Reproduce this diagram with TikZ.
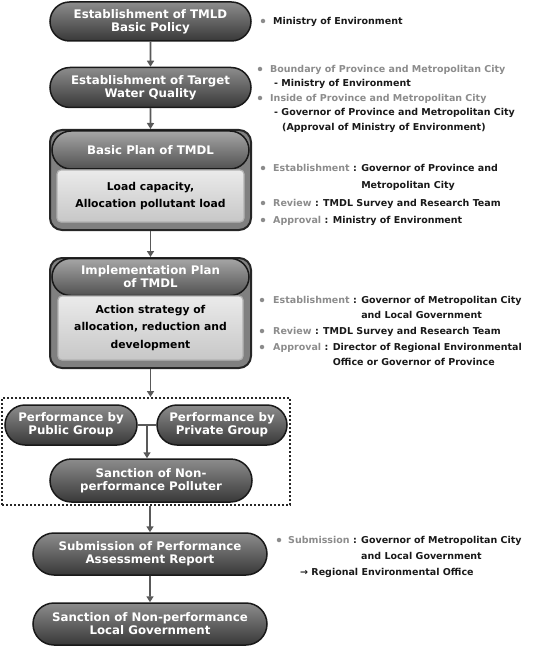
\documentclass[tikz,border=0pt]{standalone}
\usepackage{fontspec}
\setmainfont{DejaVu Sans}
\usetikzlibrary{arrows.meta,positioning,calc,shapes.misc}

\begin{document}
\begin{tikzpicture}[x=1pt,y=-1pt,>={Triangle[length=6pt,width=7pt]},
 pill/.style={rounded rectangle,draw=black!90,line width=1.5pt,top color=black!45,middle color=black!80,bottom color=black!78,text=white,align=center,inner sep=0pt,font=\bfseries\fontsize{11.8}{13}\selectfont},
 head/.style={pill,top color=black!35,middle color=black!62,bottom color=black!68},
 frame/.style={draw=black!85,line width=2pt,fill=black!50,rounded corners=12pt,inner sep=0pt},
 inbox/.style={draw=black!30,line width=1.2pt,top color=black!8,bottom color=black!22,rounded corners=4pt,align=center,inner sep=0pt,font=\bfseries\fontsize{10.8}{17.5}\selectfont},
 note/.style={anchor=base west,inner sep=0pt,text=black!90,font=\bfseries\fontsize{9.5}{11}\selectfont},
 gnote/.style={note,text=black!45},
 dot/.style={circle,fill=black!45,inner sep=0pt,minimum size=4.5pt},
 link/.style={->,draw=black!65,line width=1.8pt}]

 \useasboundingbox (0,0) rectangle (535,652);

 \node[pill,minimum width=201,minimum height=39] (policy) at (150.5,21.5) {Establishment of TMLD\\Basic Policy};
 \node[pill,minimum width=201,minimum height=40] (target) at (150.5,87.5) {Establishment of Target\\Water Quality};

 \node[frame,minimum width=201,minimum height=100] (basic) at (150.5,180) {};
 \node[head,minimum width=197,minimum height=38] (basichd) at (150.5,150) {Basic Plan of TMDL};
 \node[inbox,minimum width=187,minimum height=52] (basicin) at (150.5,196) {Load capacity,\\Allocation pollutant load};

 \node[frame,minimum width=201,minimum height=110] (impl) at (150.5,313) {};
 \node[head,minimum width=197,minimum height=37] (implhd) at (150.5,277) {Implementation Plan\\of TMDL};
 \node[inbox,minimum width=185,minimum height=64] (implin) at (150.5,328) {Action strategy of\\allocation, reduction and\\development};

 \node[draw=black!85,line width=2pt,dotted,minimum width=288,minimum height=107,inner sep=0pt] (group) at (146,451.5) {};
 \node[pill,minimum width=132,minimum height=40] (public) at (71,425) {Performance by\\Public Group};
 \node[pill,minimum width=130,minimum height=40] (private) at (222,425) {Performance by\\Private Group};
 \node[pill,minimum width=202,minimum height=43] (polluter) at (151,480.5) {Sanction of Non-\\performance Polluter};

 \node[pill,minimum width=234,minimum height=42] (report) at (150,554) {Submission of Performance\\Assessment Report};
 \node[pill,minimum width=234,minimum height=42] (localgov) at (150,624) {Sanction of Non-performance\\Local Government};

 \draw[link] (policy) -- (target);
 \draw[link] (target) -- (basic);
 \draw[link] (basic) -- (impl);
 \draw[link] (impl) -- (impl.south |- group.north);
 \draw[draw=black!65,line width=1.8pt] (public) -- (private) coordinate[midway] (join);
 \draw[link] (join) -- (join |- polluter.north);
 \draw[link] (report.north |- group.south) -- (report);
 \draw[link] (report) -- (localgov);

 \node[dot] (d1) at (263,21) {};
 \node[note] (n1) at (273,24.5) {Ministry of Environment};

 \node[dot] (d2) at (260,69) {};
 \node[gnote] (n2) at (270,72.5) {Boundary of Province and Metropolitan City};
 \node[note] (n2a) at (274,86.5) {- Ministry of Environment};
 \node[dot] (d3) at (260,98) {};
 \node[gnote] (n3) at (270,101.5) {Inside of Province and Metropolitan City};
 \node[note] (n3a) at (274,115.5) {- Governor of Province and Metropolitan City};
 \node[note] (n3b) at (282,130.5) {(Approval of Ministry of Environment)};

 \node[dot] (d4) at (263,168) {};
 \node[gnote] (n4) at (273,171.5) {Establishment};
 \node[note] (n4a) at ([xshift=3pt]n4.base east) {: Governor of Province and};
 \node[note] (n4b) at ([yshift=-17pt]n4a.base west) {\phantom{: }Metropolitan City};
 \node[dot] (d5) at (263,203) {};
 \node[gnote] (n5) at (273,206.5) {Review};
 \node[note] (n5a) at ([xshift=3pt]n5.base east) {: TMDL Survey and Research Team};
 \node[dot] (d6) at (263,220) {};
 \node[gnote] (n6) at (273,223.5) {Approval};
 \node[note] (n6a) at ([xshift=3pt]n6.base east) {: Ministry of Environment};

 \node[dot] (d7) at (262,300) {};
 \node[gnote] (n7) at (273,303.5) {Establishment};
 \node[note] (n7a) at ([xshift=3pt]n7.base east) {: Governor of Metropolitan City};
 \node[note] (n7b) at ([yshift=-15pt]n7a.base west) {\phantom{: }and Local Government};
 \node[dot] (d8) at (262,331) {};
 \node[gnote] (n8) at (273,334.5) {Review};
 \node[note] (n8a) at ([xshift=3pt]n8.base east) {: TMDL Survey and Research Team};
 \node[dot] (d9) at (262,347) {};
 \node[gnote] (n9) at (273,350.5) {Approval};
 \node[note] (n9a) at ([xshift=3pt]n9.base east) {: Director of Regional Environmental};
 \node[note] (n9b) at ([yshift=-15pt]n9a.base west) {\phantom{: }Office or Governor of Province};

 \node[dot] (d10) at (279,540) {};
 \node[gnote] (n10) at (288,543.5) {Submission};
 \node[note] (n10a) at ([xshift=3pt]n10.base east) {: Governor of Metropolitan City};
 \node[note] (n10b) at ([yshift=-16pt]n10a.base west) {\phantom{: }and Local Government};
 \node[note] (n10c) at (300,575.5) {→ Regional Environmental Office};
\end{tikzpicture}
\end{document}
